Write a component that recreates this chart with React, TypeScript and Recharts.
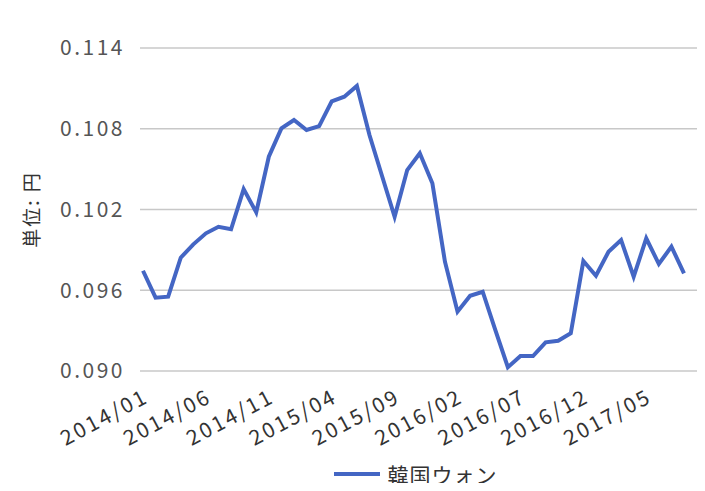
import { LineChart, Line, XAxis, YAxis, CartesianGrid, Legend, Label } from 'recharts';

// monthly rate, 2014/01 - 2017/08
const months = [
  '2014/01', '2014/02', '2014/03', '2014/04', '2014/05', '2014/06', '2014/07', '2014/08', '2014/09', '2014/10', '2014/11', '2014/12',
  '2015/01', '2015/02', '2015/03', '2015/04', '2015/05', '2015/06', '2015/07', '2015/08', '2015/09', '2015/10', '2015/11', '2015/12',
  '2016/01', '2016/02', '2016/03', '2016/04', '2016/05', '2016/06', '2016/07', '2016/08', '2016/09', '2016/10', '2016/11', '2016/12',
  '2017/01', '2017/02', '2017/03', '2017/04', '2017/05', '2017/06', '2017/07', '2017/08',
];

const krw = [
  0.09745, 0.09545, 0.09552, 0.09842, 0.09941, 0.10023, 0.10072, 0.10053, 0.10352, 0.10179, 0.10592, 0.10803,
  0.10865, 0.10791, 0.1082, 0.11004, 0.11038, 0.11118, 0.10753, 0.10449, 0.10146, 0.10493, 0.10618, 0.10395,
  0.09812, 0.09441, 0.09559, 0.09589, 0.09305, 0.09028, 0.09111, 0.09111, 0.09213, 0.09225, 0.0928, 0.09817,
  0.09708, 0.09886, 0.09973, 0.09701, 0.09986, 0.09795, 0.09924, 0.09726,
];

const yTicks = [0.09, 0.096, 0.102, 0.108, 0.114];

const seriesName = '韓国ウォン';
const yLabel = '単位: 円';
const LINE_COLOR = '#4466c4';
const FONT = '"Noto Sans CJK JP", "Noto Sans", sans-serif';

const data = months.map((m, i) => ({ month: m, value: krw[i] }));

// rotated month label, top-right corner sits on the tick
const MonthTick = ({ x, y, payload }: any) => (
  <g transform={`translate(${x},${y}) rotate(-28)`}>
    <text
      x={0}
      y={0}
      dy={15}
      textAnchor="end"
      fontSize={21}
      fill="#333"
      letterSpacing={2.5}
      fontFamily={FONT}
    >
      {payload.value}
    </text>
  </g>
);

// vertical unit label centred on the plot
const UnitLabel = ({ viewBox }: any) => {
  const cx = 30;
  const cy = viewBox.y + viewBox.height / 2;
  return (
    <text
      x={cx}
      y={cy}
      transform={`rotate(-90, ${cx}, ${cy})`}
      textAnchor="middle"
      dominantBaseline="central"
      fontSize={19}
      fill="#333"
      letterSpacing={2}
      fontFamily={FONT}
    >
      {yLabel}
    </text>
  );
};

const LegendContent = () => (
  <div style={{ display: 'flex', justifyContent: 'center', alignItems: 'center', height: 30, fontFamily: FONT, paddingLeft: 124 }}>
    <svg width={46} height={10} style={{ marginRight: 8 }}>
      <line x1={0} y1={5} x2={46} y2={5} stroke={LINE_COLOR} strokeWidth={4} />
    </svg>
    <span style={{ fontSize: 21, lineHeight: '30px', color: '#333', letterSpacing: 1 }}>{seriesName}</span>
  </div>
);

export default function App() {
  return (
    <div style={{ margin: -8, width: 705, height: 491, background: '#fff' }}>
      <LineChart
        width={705}
        height={491}
        data={data}
        margin={{ top: 48, right: 8, left: 10, bottom: 2 }}
        style={{ fontFamily: FONT }}
      >
        <CartesianGrid vertical={false} stroke="#c8c8c8" strokeWidth={1.5} />
        <XAxis
          dataKey="month"
          interval={4}
          height={88}
          padding={{ left: 3, right: 13 }}
          axisLine={false}
          tickLine={false}
          tickSize={6}
          tickMargin={11}
          tick={<MonthTick />}
        />
        <YAxis
          domain={[0.09, 0.114]}
          ticks={yTicks}
          width={130}
          axisLine={false}
          tickLine={false}
          tickMargin={9}
          tickFormatter={(v: number) => v.toFixed(3)}
          tick={{ fontSize: 21, fill: '#555', letterSpacing: 2.5 }}
        >
          <Label content={<UnitLabel />} />
        </YAxis>
        <Legend verticalAlign="bottom" content={<LegendContent />} />
        <Line
          type="linear"
          dataKey="value"
          name={seriesName}
          stroke={LINE_COLOR}
          strokeWidth={4}
          dot={false}
          isAnimationActive={false}
        />
      </LineChart>
    </div>
  );
}
